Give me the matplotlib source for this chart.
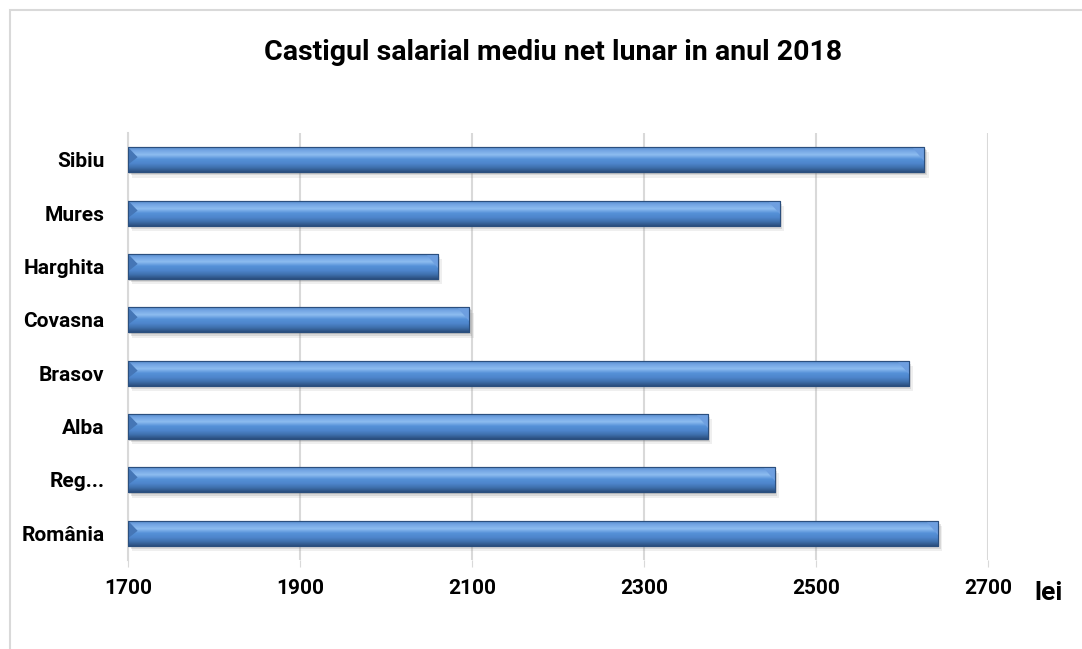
import numpy as np
import matplotlib.pyplot as plt
from matplotlib.colors import LinearSegmentedColormap
from matplotlib.patches import Rectangle, Polygon

plt.rcParams['font.family'] = ['Roboto', 'DejaVu Sans']

regions = ['România', 'Reg...', 'Alba', 'Brasov', 'Covasna', 'Harghita', 'Mures', 'Sibiu']
salaries = [2642, 2452, 2374, 2608, 2097, 2060, 2458, 2626]
xticks = [1700, 1900, 2100, 2300, 2500, 2700]

fig = plt.figure(figsize=(10.82, 6.49), dpi=100)
ax = fig.add_axes([128/1082, 1 - 560/649, 860/1082, 427/649])

# chart frame
fig.patches.append(Rectangle((10/1082, -0.05), 1.1, 1 - 10/649 + 0.05, transform=fig.transFigure,
                             fill=False, edgecolor='#d9d9d9', lw=1.5))

y = np.arange(len(regions))
bars = ax.barh(y, [s - 1700 for s in salaries], left=1700, height=0.47,
               color='#4f81bd', edgecolor='#2b4f7e', lw=0.8, zorder=3)

cmap = LinearSegmentedColormap.from_list(
    'bevel', ['#2b4f7e', '#3f70ad', '#4e86cc', '#5591d8', '#8dbcf0', '#74a6e4', '#4f82c3'])
grad = np.linspace(0, 1, 64).reshape(-1, 1)
dx = 14  # bevel width in data units
for b in bars:
    x0, y0, w, h = b.get_x(), b.get_y(), b.get_width(), b.get_height()
    # soft shadow
    for k, a in [(5, 0.12), (3, 0.2), (1.5, 0.25)]:
        ax.add_patch(Rectangle((x0 + k, y0 - 0.02 * k), w, h, color='#808080', alpha=a, lw=0, zorder=2))
    im = ax.imshow(grad, extent=[x0, x0 + w, y0, y0 + h], aspect='auto', cmap=cmap,
                   origin='lower', zorder=4)
    im.set_clip_path(b)
    x1 = x0 + w
    ax.add_patch(Polygon([(x1 - dx, y0 + h), (x1, y0 + h), (x1, y0 + h * 0.45)],
                         closed=True, color='#6e9fe0', lw=0, zorder=5))
    ax.add_patch(Polygon([(x0, y0 + h), (x0 + dx * 0.8, y0 + h * 0.6), (x0, y0 + h * 0.3)],
                         closed=True, color='#4576b6', lw=0, zorder=5))
    ax.add_patch(Rectangle((x0, y0), w, h, fill=False, edgecolor='#2b4f7e', lw=0.8, zorder=6))

ax.set_xlim(1700, 2700)
ax.set_ylim(-0.5, len(regions) - 0.5)
ax.set_xticks(xticks)
ax.set_xticklabels([str(t) for t in xticks], fontsize=15, fontweight='bold')
ax.set_yticks(y)
ax.set_yticklabels(regions, fontsize=15, fontweight='bold')
ax.tick_params(axis='y', length=0, pad=17)
ax.tick_params(axis='x', length=5, color='#d9d9d9', pad=9)
ax.grid(axis='x', color='#d9d9d9', lw=1.5, zorder=0)
for s in ['top', 'right', 'bottom']:
    ax.spines[s].set_visible(False)
ax.spines['left'].set_color('#d9d9d9')
ax.spines['left'].set_linewidth(1.5)

fig.text(553/1082, 1 - 52/649, 'Castigul salarial mediu net lunar in anul 2018',
         ha='center', va='center', fontsize=20.5, fontweight='bold')
fig.text(1048/1082, 1 - 593/649, 'lei', ha='center', va='center', fontsize=19, fontweight='bold')

fig.savefig('out.png', dpi=100)
